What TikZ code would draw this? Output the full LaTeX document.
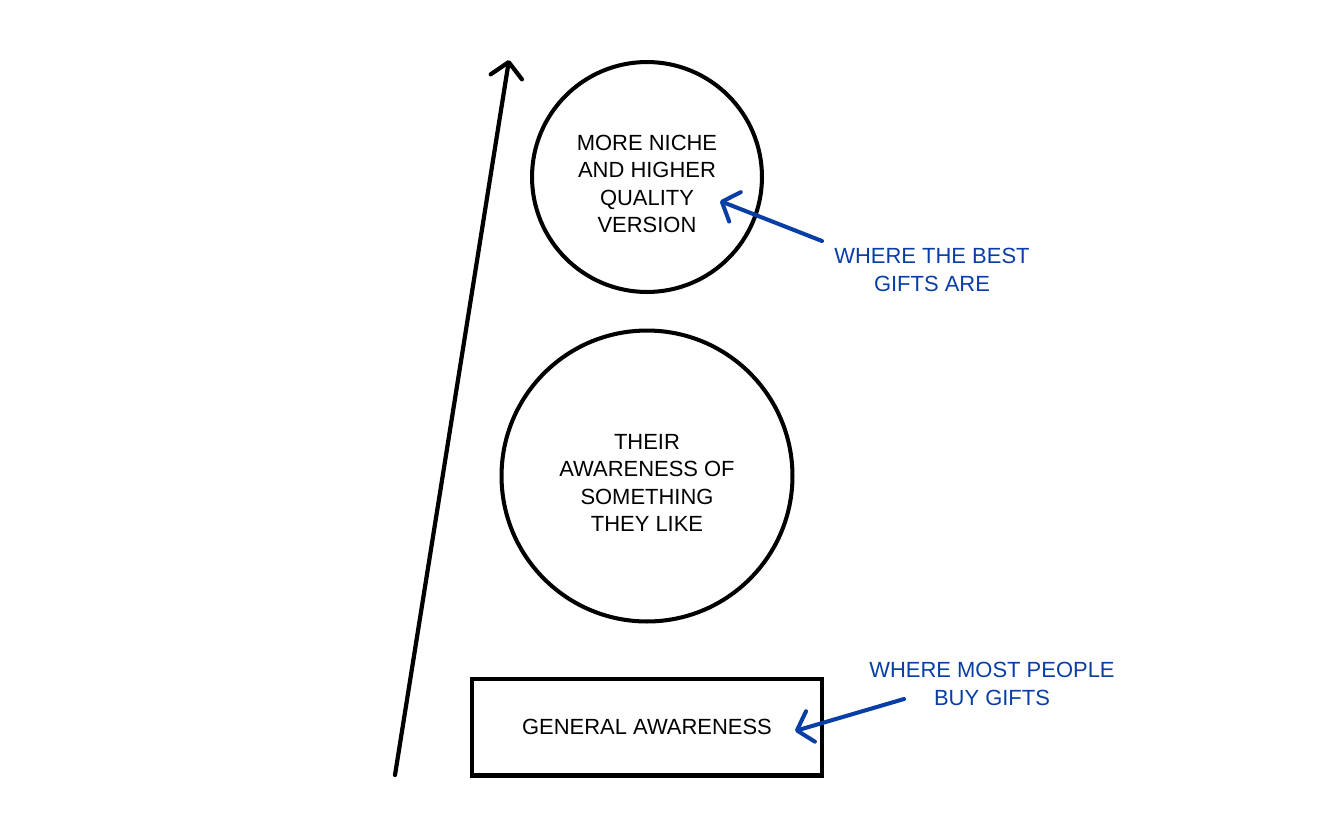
\documentclass[tikz,border=0pt]{standalone}
\usepackage{fontspec}
\setmainfont{Liberation Sans}
\usetikzlibrary{arrows.meta}
\definecolor{noteBlue}{RGB}{8,62,165}

\begin{document}
\begin{tikzpicture}[
  x=0.02cm,
  y=-0.02cm,
  every node/.style={
    font=\fontsize{12.5}{15.6}\selectfont,
    align=center,
    inner sep=0pt,
  },
  every label/.style={
    font=\fontsize{12.5}{15.6}\selectfont,
    align=center,
    inner sep=0pt,
    yshift=-0.14cm,
  },
  level circle/.style={
    draw=black,
    line width=2.3pt,
    circle,
  },
  level box/.style={
    draw=black,
    line width=2.3pt,
    rectangle,
    minimum width=7cm,
    minimum height=1.94cm,
  },
  note/.style={
    text=noteBlue,
  },
  rise arrow/.style={
    draw=black,
    line width=2.4pt,
    line cap=round,
    -{Straight Barb[length=8.5pt,width=18pt,round]},
  },
  note arrow/.style={
    draw=noteBlue,
    line width=2.3pt,
    line cap=round,
    -{Straight Barb[length=8pt,width=18pt,round]},
  },
]
\useasboundingbox (0,0) rectangle (1332,836);

% levels
\node[level circle,minimum size=4.6cm,
  label={center:{MORE NICHE\\AND HIGHER\\QUALITY\\VERSION}}] (niche) at (647,177) {};
\node[level circle,minimum size=5.82cm,
  label={center:{THEIR\\AWARENESS OF\\SOMETHING\\THEY LIKE}}] (like) at (647,476) {};
\node[level box] (general) at (647,727) {GENERAL AWARENESS};

% rising axis
\coordinate (riseStart) at (395,775);
\coordinate (riseEnd) at (509,60);
\draw[rise arrow] (riseStart) -- (riseEnd);

% notes
\node[note] (bestNote) at (932,270) {WHERE THE BEST\\GIFTS ARE};
\node[note] (mostNote) at (992,684) {WHERE MOST PEOPLE\\BUY GIFTS};
\coordinate (bestFrom) at (822,241);
\coordinate (bestTo) at (720,201);
\coordinate (mostFrom) at (904,699);
\coordinate (mostTo) at (795,731);
\draw[note arrow] (bestFrom) -- (bestTo);
\draw[note arrow] (mostFrom) -- (mostTo);
\end{tikzpicture}
\end{document}
